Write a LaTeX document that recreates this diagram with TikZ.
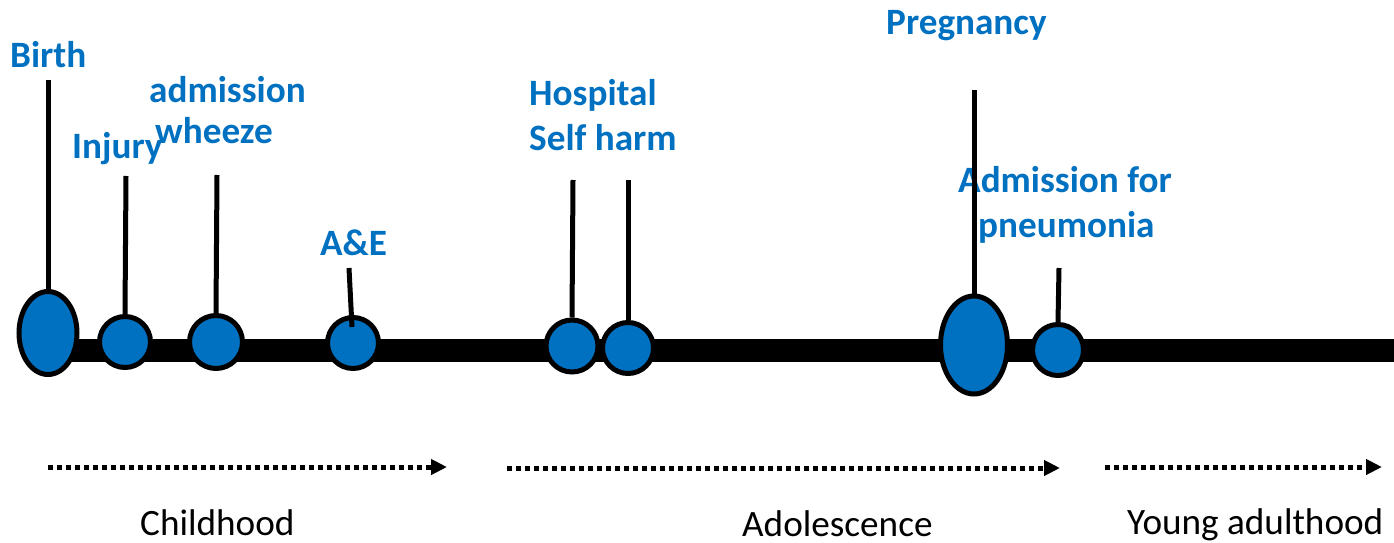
\documentclass[tikz,border=0pt]{standalone}
\usepackage{fontspec}
\setmainfont{Carlito}
\usetikzlibrary{arrows.meta,shapes.geometric}
\definecolor{evblue}{RGB}{0,112,192}
\tikzset{
  ev/.style={ellipse, draw=black, fill=evblue, line width=5pt, inner sep=0pt},
  evc/.style={ev, minimum width=#1, minimum height=#1},
  stem/.style={line width=5pt},
  bar/.style={line width=23pt},
  lbl/.style={anchor=base west, inner sep=0pt, text=evblue, font=\fontsize{37.2}{44}\selectfont\bfseries},
  phase/.style={anchor=base west, inner sep=0pt, text=black, font=\fontsize{37.2}{44}\selectfont},
  period/.style={line width=5pt, dash pattern=on 5pt off 4pt, -{Triangle[length=16pt,width=15pt]}}
}
\begin{document}
\begin{tikzpicture}[x=1pt,y=-1pt]
\useasboundingbox (0,0) rectangle (1394,543);
% timeline bar
\coordinate (barL) at (60,350);
\coordinate (barR) at (1394,350);
\draw[bar] (barL) -- (barR);
% labels
\node[lbl] (tbirth) at (10,67) {Birth};
\node[lbl] (tinjury) at (72,158) {Injury};
\node[lbl] (tadm) at (149,102) {admission};
\node[lbl] (twheeze) at (155,143) {wheeze};
\node[lbl] (tae) at (320,255) {A\&E};
\node[lbl] (thosp) at (529,105) {Hospital};
\node[lbl] (tself) at (529,150) {Self harm};
\node[lbl] (tpreg) at (886,35) {Pregnancy};
\node[lbl] (tadmf) at (958,192) {Admission for};
\node[lbl] (tpneu) at (978,237) {pneumonia};
% stem tops
\coordinate (sbirth) at (48,80);
\coordinate (sinjury) at (126,176);
\coordinate (swheeze) at (217,175);
\coordinate (sae) at (349,268);
\coordinate (shosp) at (573,180);
\coordinate (sself) at (628,180);
\coordinate (spreg) at (974,90);
\coordinate (spneu) at (1059,268);
% events
\node[ev, minimum width=58pt, minimum height=83pt] (birth) at (48,333) {};
\node[evc=51pt] (injury) at (125,342) {};
\node[evc=53pt] (wheeze) at (216,342) {};
\node[evc=51pt] (ae) at (353,343) {};
\node[evc=52pt] (hosp) at (572,346) {};
\node[evc=51pt] (self) at (628,348) {};
\node[ev, minimum width=67pt, minimum height=98pt] (preg) at (974,345) {};
\node[evc=51pt] (pneu) at (1058,350) {};
% stems
\draw[stem] (sbirth) -- (birth.north);
\draw[stem] (sinjury) -- (injury.north);
\draw[stem] (swheeze) -- (wheeze.north);
\coordinate (aein) at (352,327);
\draw[stem] (sae) -- (aein);
\draw[stem] (shosp) -- (hosp.north);
\draw[stem] (sself) -- (self.north);
\draw[stem] (spreg) -- (preg.north);
\draw[stem] (spneu) -- (pneu.north);
% periods
\coordinate (p1s) at (48,467);
\coordinate (p1e) at (447,467);
\coordinate (p2s) at (507,468);
\coordinate (p2e) at (1060,468);
\coordinate (p3s) at (1105,467);
\coordinate (p3e) at (1382,467);
\draw[period] (p1s) -- (p1e);
\draw[period] (p2s) -- (p2e);
\draw[period] (p3s) -- (p3e);
\node[phase] (child) at (140,535) {Childhood};
\node[phase] (adol) at (742,536) {Adolescence};
\node[phase] (young) at (1127,534) {Young adulthood};
\end{tikzpicture}
\end{document}
